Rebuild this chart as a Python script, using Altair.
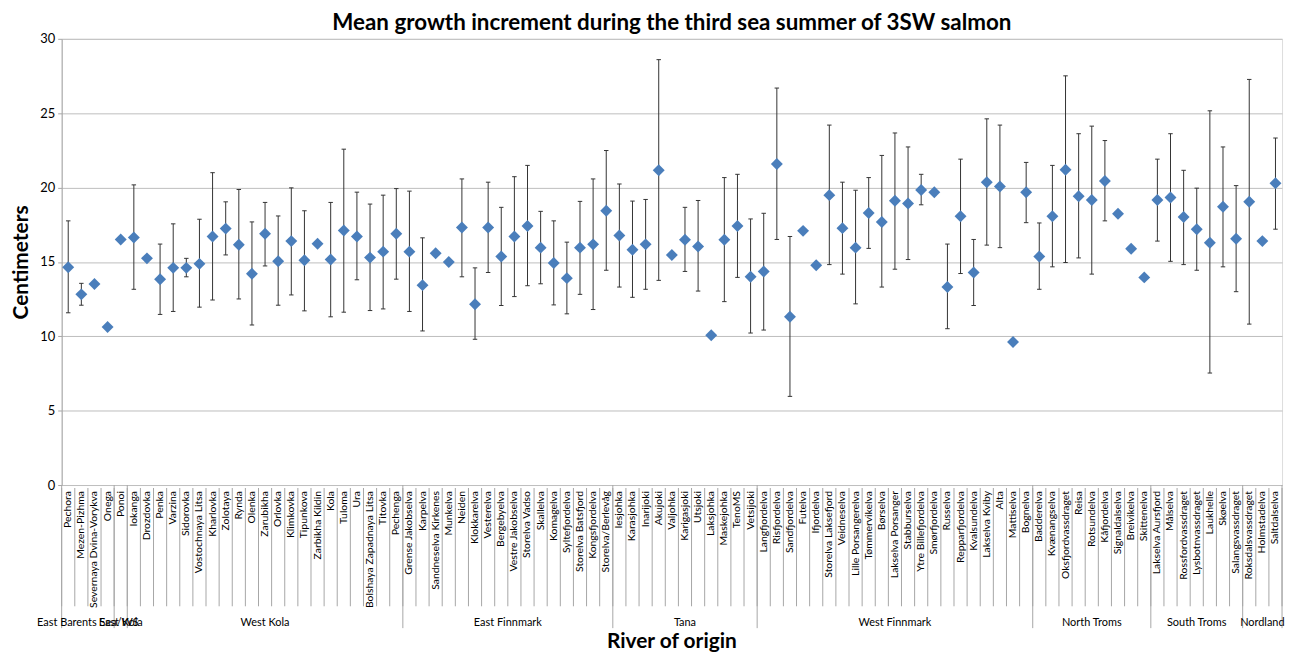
import altair as alt
import pandas as pd

rivers = [
    "Pechora", "Mezen-Pizhma", "Severnaya Dvina-Vorykva", "Onega", "Ponoi",
    "Iokanga", "Drozdovka", "Penka", "Varzina", "Sidorovka",
    "Vostochnaya Litsa", "Kharlovka", "Zolotaya", "Rynda", "Olenka",
    "Zarubikha", "Orlovka", "Klimkovka", "Tipunkova", "Zarbikha Kildin",
    "Kola", "Tuloma", "Ura", "Bolshaya Zapadnaya Litsa", "Titovka",
    "Pechenga", "Grense Jakobselva", "Karpelva", "Sandneselva Kirkenes", "Munkelva",
    "Neiden", "Klokkarelva", "Vesterelva", "Bergebyelva", "Vestre Jakobselva",
    "Storelva Vadso", "Skallelva", "Komagelva", "Syltefjordelva", "Storelva Batsfjord",
    "Kongsfjordelva", "Storelva/Berlevåg", "Iesjohka", "Karasjohka", "Inarijoki",
    "Akujoki", "Valjohka", "Karigasjoki", "Utsjoki", "Laksjohka",
    "Maskejohka", "TenoMS", "Vetsijoki", "Langfjordelva", "Risfjordelva",
    "Sandfjordelva", "Futelva", "Ifjordelva", "Storelva Laksefjord", "Veidneselva",
    "Lille Porsangerelva", "Tømmervikelva", "Børselva", "Lakselva Porsanger", "Stabburselva",
    "Ytre Billefjordelva", "Smørfjordelva", "Russelva", "Repparfjordelva", "Kvalsundelva",
    "Lakselva Kviby", "Alta", "Mattiselva", "Bognelva", "Badderelva",
    "Kvænangselva", "Oksfjordvassdraget", "Reisa", "Rotsundelva", "Kåfjordelva",
    "Signaldalselva", "Breivikelva", "Skittenelva", "Lakselva Aursfjord", "Målselva",
    "Rossfordvassdraget", "Lysbotnvassdraget", "Laukhelle", "Skøelva", "Salangsvassdraget",
    "Roksdalsvassdraget", "Holmstadelva", "Saltdalselva",
]

means = [
    14.64, 12.82, 13.51, 10.62, 16.51, 16.64, 15.24, 13.84, 14.60, 14.60,
    14.87, 16.71, 17.24, 16.16, 14.20, 16.89, 15.04, 16.40, 15.11, 16.22,
    15.16, 17.11, 16.71, 15.29, 15.69, 16.89, 15.69, 13.44, 15.58, 15.00,
    17.31, 12.16, 17.31, 15.36, 16.71, 17.42, 15.96, 14.93, 13.91, 15.96,
    16.18, 18.44, 16.78, 15.82, 16.18, 21.16, 15.47, 16.49, 16.04, 10.07,
    16.49, 17.42, 14.00, 14.36, 21.58, 11.31, 17.09, 14.78, 19.49, 17.27,
    15.96, 18.29, 17.69, 19.11, 18.93, 19.84, 19.69, 13.31, 18.07, 14.29,
    20.36, 20.07, 9.62, 19.69, 15.36, 18.07, 21.20, 19.42, 19.16, 20.44,
    18.24, 15.89, 13.96, 19.16, 19.33, 18.02, 17.20, 16.29, 18.71, 16.56,
    19.04, 16.40, 20.29,
]

upper = [
    17.76, 13.56, None, None, None, 20.18, None, 16.20, 17.56, 15.24,
    17.87, 21.00, 19.04, 19.87, 17.69, 19.00, 18.09, 19.98, 18.44, None,
    19.00, 22.58, 19.69, 18.89, 19.49, 19.93, 19.76, 16.62, None, None,
    20.58, 14.60, 20.36, 18.67, 20.73, 21.49, 18.40, 17.76, 16.33, 19.07,
    20.58, 22.49, 20.24, 19.09, 19.20, 28.60, None, 18.67, 19.13, None,
    20.67, 20.89, 17.89, 18.27, 26.69, 16.71, None, None, 24.20, 20.36,
    19.82, 20.67, 22.16, 23.67, 22.73, 20.89, None, 16.20, 21.91, 16.51,
    24.62, 24.20, None, 21.69, 17.62, 21.49, 27.51, 23.62, 24.13, 23.16,
    None, None, None, 21.91, 23.62, 21.16, 19.96, 25.16, 22.73, 20.13,
    27.27, None, 23.33,
]

lower = [
    11.58, 12.09, None, None, None, 13.16, None, 11.47, 11.67, 14.00,
    11.96, 12.44, 15.47, 12.51, 10.76, 14.73, 12.09, 12.78, 11.71, None,
    11.31, 11.62, 13.80, 11.73, 11.84, 13.84, 11.67, 10.36, None, None,
    14.00, 9.80, 14.29, 12.07, 12.67, 13.40, 13.53, 12.11, 11.51, 12.82,
    11.80, 14.44, 13.31, 12.62, 13.16, 13.76, None, 14.36, 13.04, None,
    12.33, 13.96, 10.22, 10.42, 16.51, 5.96, None, None, 14.82, 14.18,
    12.18, 15.91, 13.31, 14.51, 15.16, 18.84, None, 10.51, 14.22, 12.07,
    16.13, 15.96, None, 17.64, 13.16, 14.67, 14.96, 15.27, 14.18, 17.76,
    None, None, None, 16.40, 15.04, 14.82, 14.44, 7.53, 14.67, 13.00,
    10.82, None, 17.20,
]

group_names = ["East Barents Sea/WS", "East Kola", "West Kola", "East Finnmark", "Tana",
               "West Finnmark", "North Troms", "South Troms", "Nordland"]
group_sizes = [4, 1, 21, 16, 11, 21, 9, 7, 3]

y_ticks = [0, 5, 10, 15, 20, 25, 30]

W, H = 1228, 449
N = len(rivers)
FONT = "Lato"
GRAY = "#a6a6a6"

pts = pd.DataFrame({"pos": [i + 0.5 for i in range(N)], "river": rivers, "mean": means})
err = pd.DataFrame({
    "pos": [i + 0.5 for i in range(N) if upper[i] is not None],
    "hi": [u for u in upper if u is not None],
    "lo": [l for l in lower if l is not None],
})
err["a"] = err["pos"] - 0.17
err["b"] = err["pos"] + 0.17

bounds = [0]
for s in group_sizes:
    bounds.append(bounds[-1] + s)
groups = pd.DataFrame({
    "name": group_names,
    "center": [(bounds[k] + bounds[k + 1]) / 2 for k in range(len(group_names))],
})
gsep = pd.DataFrame({"b": bounds})
csep = pd.DataFrame({"b": list(range(N + 1))})

xs = alt.Scale(domain=[0, N], nice=False, zero=False)
ys = alt.Scale(domain=[0, 30], nice=False)

X = lambda f: alt.X(f, type="quantitative", scale=xs, axis=None)

base_axis = alt.Axis(
    values=y_ticks, grid=True, gridColor="#bdbdbd", domainColor=GRAY, tickColor=GRAY,
    tickSize=4, labelFont=FONT, labelFontSize=13, labelColor="#000", labelPadding=3,
    title="Centimeters", titleFont=FONT, titleFontSize=21, titleFontWeight="bold",
    titleColor="#000", titlePadding=8,
)

bars = alt.Chart(err).mark_rule(color="#333333", strokeWidth=1).encode(
    x=X("pos"), y=alt.Y("lo:Q", scale=ys, axis=base_axis), y2="hi:Q"
)
cap_hi = alt.Chart(err).mark_rule(color="#333333", strokeWidth=1).encode(
    x=X("a"), x2="b:Q", y=alt.Y("hi:Q", scale=ys)
)
cap_lo = alt.Chart(err).mark_rule(color="#333333", strokeWidth=1).encode(
    x=X("a"), x2="b:Q", y=alt.Y("lo:Q", scale=ys)
)
points = alt.Chart(pts).mark_point(shape="diamond", filled=True, size=144, opacity=1,
                                    color="#4a7ebb").encode(
    x=X("pos"), y=alt.Y("mean:Q", scale=ys)
)
labels = alt.Chart(pts).mark_text(angle=270, align="right", baseline="middle",
                                   font=FONT, fontSize=10.5, color="#000").encode(
    x=X("pos"), y=alt.value(H + 6), text="river:N"
)
cat_lines = alt.Chart(csep).mark_rule(color=GRAY, strokeWidth=1).encode(
    x=X("b"), y=alt.value(H + 3), y2=alt.value(H + 122)
)
grp_lines = alt.Chart(gsep).mark_rule(color=GRAY, strokeWidth=1).encode(
    x=X("b"), y=alt.value(H), y2=alt.value(H + 144)
)
grp_labels = alt.Chart(groups).mark_text(baseline="middle", align="center", font=FONT,
                                         fontSize=11, color="#000").encode(
    x=X("center"), y=alt.value(H + 139), text="name:N"
)
x_title = alt.Chart(pd.DataFrame({"t": ["River of origin"], "c": [N / 2]})).mark_text(
    baseline="middle", align="center", font=FONT, fontSize=21, fontWeight="bold", color="#000"
).encode(x=X("c"), y=alt.value(H + 158), text="t:N")

chart = alt.layer(
    bars, cap_hi, cap_lo, points, cat_lines, grp_lines, labels, grp_labels, x_title
).properties(
    width=W, height=H,
    title=alt.TitleParams("Mean growth increment during the third sea summer of 3SW salmon",
                          font=FONT, fontSize=22.5, fontWeight="bold", color="#000",
                          anchor="middle", offset=-2),
    autosize=alt.AutoSizeParams(type="none"),
    padding={"left": 54, "top": 29, "right": 7, "bottom": 166},
).configure_view(stroke=None).configure(background="white")

chart.save("out.html", embed_options={"renderer": "svg", "actions": False})
